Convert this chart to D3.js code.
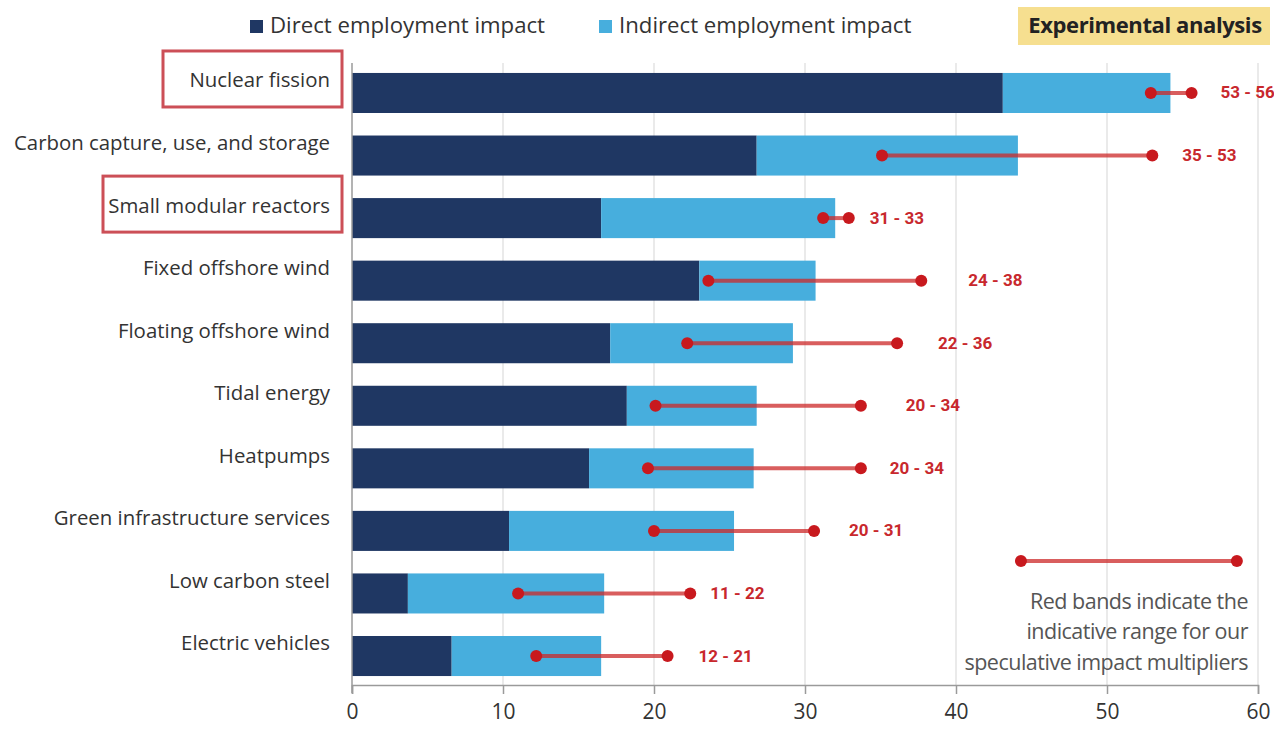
<!DOCTYPE html>
<html>
<head>
<meta charset="utf-8">
<script src="https://cdn.jsdelivr.net/npm/d3@7"></script>
<style>
  html, body { margin: 0; padding: 0; background: #fff; }
  svg { display: block; }
</style>
</head>
<body>
<svg id="chart" width="1274" height="737"></svg>
<script>
// ---- data ----
const categories = [
  "Nuclear fission",
  "Carbon capture, use, and storage",
  "Small modular reactors",
  "Fixed offshore wind",
  "Floating offshore wind",
  "Tidal energy",
  "Heatpumps",
  "Green infrastructure services",
  "Low carbon steel",
  "Electric vehicles"
];
const directImpact   = [43.1, 26.8, 16.5, 23.0, 17.1, 18.2, 15.7, 10.4, 3.7, 6.6];
const indirectImpact = [11.1, 17.3, 15.5, 7.7, 12.1, 8.6, 10.9, 14.9, 13.0, 9.9];
const rangeLow  = [52.9, 35.1, 31.2, 23.6, 22.2, 20.1, 19.6, 20.0, 11.0, 12.2];
const rangeHigh = [55.6, 53.0, 32.9, 37.7, 36.1, 33.7, 33.7, 30.6, 22.4, 20.9];
const rangeLabels = ["53 - 56", "35 - 53", "31 - 33", "24 - 38", "22 - 36", "20 - 34", "20 - 34", "20 - 31", "11 - 22", "12 - 21"];
const highlighted = ["Nuclear fission", "Small modular reactors"];
const xTicks = [0, 10, 20, 30, 40, 50, 60];
const seriesNames = ["Direct employment impact", "Indirect employment impact"];
const legendRange = [44.3, 58.6];
const noteLines = ["Red bands indicate the", "indicative range for our", "speculative impact multipliers"];
const badgeText = "Experimental analysis";

// ---- layout (not data) ----
const labelGapPx = [29, 30, 21, 47, 41, 45, 29, 35, 20, 31];
const colors = { direct: "#1f3763", indirect: "#47aedd", red: "#c8191e", redLine: "rgba(204,40,40,0.75)" };

const svg = d3.select("#chart");
const x = d3.scaleLinear().domain([0, 60]).range([352, 1258]);
const y = d3.scaleBand().domain(categories).range([61.7, 687.3]).paddingInner(0.36).paddingOuter(0.18);
const axisY = 685;

// gridlines
svg.append("g").selectAll("line").data(xTicks.slice(1)).join("line")
  .attr("x1", d => x(d)).attr("x2", d => x(d))
  .attr("y1", 63).attr("y2", axisY)
  .attr("stroke", "#e3e3e3").attr("stroke-width", 1.5);

// bars
const stacked = categories.map((c, i) => ({ c, d: directImpact[i], ind: indirectImpact[i] }));
svg.append("g").selectAll("rect").data(stacked).join("rect")
  .attr("x", x(0)).attr("y", d => y(d.c))
  .attr("width", d => x(d.d) - x(0)).attr("height", y.bandwidth())
  .attr("fill", colors.direct);
svg.append("g").selectAll("rect").data(stacked).join("rect")
  .attr("x", d => x(d.d)).attr("y", d => y(d.c))
  .attr("width", d => x(d.d + d.ind) - x(d.d)).attr("height", y.bandwidth())
  .attr("fill", colors.indirect);

// x axis
const xAxis = d3.axisBottom(x).tickValues(xTicks).tickSize(9).tickFormat(d3.format("d"));
const gx = svg.append("g").attr("transform", `translate(0,${axisY})`).call(xAxis);
gx.select(".domain").attr("stroke", "#9a9a9a").attr("stroke-width", 1.5);
gx.selectAll(".tick line").attr("stroke", "#9a9a9a").attr("stroke-width", 1.5);
gx.selectAll(".tick text").attr("fill", "#333").attr("font-size", 21)
  .attr("font-family", "'Open Sans', 'Noto Sans', sans-serif").attr("dy", "1.05em");

// y axis line
svg.append("line").attr("x1", x(0)).attr("x2", x(0)).attr("y1", 63).attr("y2", axisY + 8)
  .attr("stroke", "#9a9a9a").attr("stroke-width", 1.5);

// category labels
const labelFont = "'Open Sans', 'Noto Sans', sans-serif";
svg.append("g").selectAll("text").data(categories).join("text")
  .attr("x", 330).attr("y", d => y(d) + y.bandwidth() / 2 - 11)
  .attr("text-anchor", "end")
  .attr("font-family", labelFont).attr("font-size", 20.4)
  .attr("fill", "#333").attr("dominant-baseline", "middle")
  .text(d => d);

// highlight boxes
const hlBoxes = { "Nuclear fission": [163, 342], "Small modular reactors": [103, 342] };
svg.append("g").selectAll("rect").data(highlighted).join("rect")
  .attr("x", d => hlBoxes[d][0]).attr("width", d => hlBoxes[d][1] - hlBoxes[d][0])
  .attr("y", d => y(d) + y.bandwidth() / 2 - 42).attr("height", 56)
  .attr("fill", "none").attr("stroke", "#cc4f57").attr("stroke-width", 3);

// ranges
const ranges = categories.map((c, i) => ({ c, lo: rangeLow[i], hi: rangeHigh[i], label: rangeLabels[i], gap: labelGapPx[i] }));
const rg = svg.append("g");
rg.selectAll("line").data(ranges).join("line")
  .attr("x1", d => x(d.lo)).attr("x2", d => x(d.hi))
  .attr("y1", d => y(d.c) + y.bandwidth() / 2).attr("y2", d => y(d.c) + y.bandwidth() / 2)
  .attr("stroke", colors.redLine).attr("stroke-width", 4);
rg.selectAll("circle.lo").data(ranges).join("circle").attr("class", "lo")
  .attr("cx", d => x(d.lo)).attr("cy", d => y(d.c) + y.bandwidth() / 2).attr("r", 6).attr("fill", colors.red);
rg.selectAll("circle.hi").data(ranges).join("circle").attr("class", "hi")
  .attr("cx", d => x(d.hi)).attr("cy", d => y(d.c) + y.bandwidth() / 2).attr("r", 6).attr("fill", colors.red);
rg.selectAll("text").data(ranges).join("text")
  .attr("x", d => x(d.hi) + d.gap).attr("y", d => y(d.c) + y.bandwidth() / 2 + 1)
  .attr("dominant-baseline", "middle")
  .attr("font-family", "'Liberation Sans Narrow', 'Roboto', sans-serif").attr("font-weight", "bold")
  .attr("font-size", 17).attr("fill", "#c8282d")
  .text(d => d.label);

// legend for range
const lyRange = 561;
svg.append("line").attr("x1", x(legendRange[0])).attr("x2", x(legendRange[1]))
  .attr("y1", lyRange).attr("y2", lyRange).attr("stroke", colors.redLine).attr("stroke-width", 4);
svg.selectAll("circle.leg").data(legendRange).join("circle").attr("class", "leg")
  .attr("cx", d => x(d)).attr("cy", lyRange).attr("r", 6).attr("fill", colors.red);
svg.append("g").selectAll("text").data(noteLines).join("text")
  .attr("x", 1248).attr("y", (d, i) => 603 + i * 30.5)
  .attr("text-anchor", "end").attr("dominant-baseline", "middle")
  .attr("font-family", labelFont).attr("font-size", 21.5).attr("fill", "#555")
  .attr("letter-spacing", -0.5)
  .text(d => d);

// series legend
const legend = svg.append("g");
const legendX = [250, 599];
const legendColors = [colors.direct, colors.indirect];
legend.selectAll("rect").data(seriesNames).join("rect")
  .attr("x", (d, i) => legendX[i]).attr("y", 20).attr("width", 13).attr("height", 13)
  .attr("fill", (d, i) => legendColors[i]);
legend.selectAll("text").data(seriesNames).join("text")
  .attr("x", (d, i) => legendX[i] + 20).attr("y", 27)
  .attr("dominant-baseline", "middle")
  .attr("font-family", labelFont).attr("font-size", 22.2).attr("fill", "#333")
  .text(d => d);

// badge
svg.append("rect").attr("x", 1018).attr("y", 7).attr("width", 252).attr("height", 38).attr("fill", "#f6df90");
svg.append("text").attr("x", 1145).attr("y", 27).attr("text-anchor", "middle").attr("dominant-baseline", "middle")
  .attr("font-family", labelFont).attr("font-weight", "bold").attr("font-size", 22).attr("fill", "#222")
  .attr("letter-spacing", -0.4)
  .text(badgeText);
</script>
</body>
</html>
